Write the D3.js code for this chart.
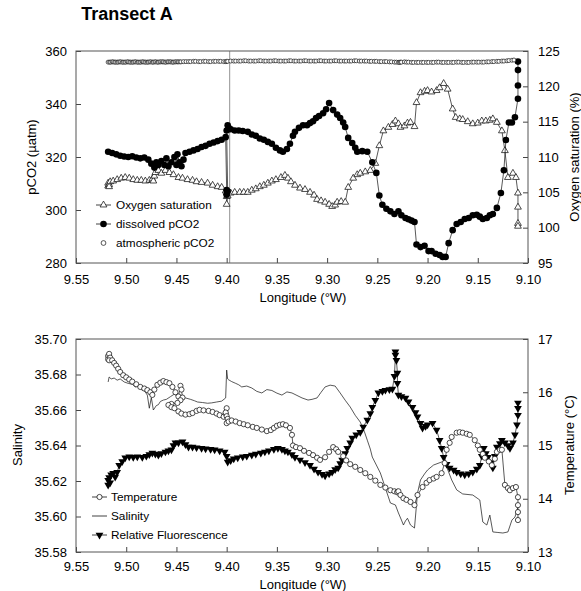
<!DOCTYPE html>
<html>
<head>
<meta charset="utf-8">
<script src="https://cdnjs.cloudflare.com/ajax/libs/d3/7.8.5/d3.min.js"></script>
<style>
body{margin:0;background:#fff;}
svg{font-family:Arial,"Liberation Sans",sans-serif;}
</style>
</head>
<body>
<svg id="chart" width="581" height="591"></svg>
<script>
// tick labels
const lonTicks = [9.55, 9.50, 9.45, 9.40, 9.35, 9.30, 9.25, 9.20, 9.15, 9.10];
const pco2Ticks = [280, 300, 320, 340, 360];
const o2Ticks = [95, 100, 105, 110, 115, 120, 125];
const salTicks = [35.58, 35.60, 35.62, 35.64, 35.66, 35.68, 35.70];
const tempTicks = [13, 14, 15, 16, 17];

// thin vertical line in top panel (longitude)
const markerLon = 9.397;

// top panel: [longitude °W, value]
const dissolvedPCO2 = [[9.518,322],[9.514,321.5],[9.510,321],[9.506,320.5],[9.502,320.2],[9.498,320],[9.494,320.3],[9.490,319.8],[9.486,319.5],[9.482,319.8],[9.478,319],[9.475,317.5],[9.472,316],[9.470,318],[9.468,317],[9.465,318.5],[9.462,317],[9.460,319.5],[9.458,316.5],[9.455,318],[9.452,320],[9.450,317],[9.449,321],[9.447,318],[9.445,316.5],[9.443,319],[9.441,321.5],[9.437,322],[9.433,322.5],[9.429,323],[9.425,323.8],[9.421,324.2],[9.417,325],[9.413,325.5],[9.409,326],[9.405,326.5],[9.401,327.5],[9.400,307.5],[9.400,305.8],[9.399,307],[9.400,330],[9.399,332],[9.398,331],[9.396,330.5],[9.392,330],[9.388,330],[9.384,329.8],[9.379,329.5],[9.375,328.5],[9.371,328],[9.367,327],[9.363,326.5],[9.359,325.7],[9.355,325],[9.351,323.5],[9.347,322.5],[9.344,322],[9.340,323],[9.337,325],[9.334,328],[9.332,329.5],[9.328,331],[9.324,332],[9.320,332],[9.317,332.8],[9.314,333.5],[9.311,334.7],[9.308,335.5],[9.304,336.5],[9.301,338],[9.298,340.4],[9.294,337.7],[9.290,336],[9.287,334.7],[9.284,333],[9.282,331.3],[9.279,327.2],[9.275,325.3],[9.272,323.5],[9.270,322],[9.265,322.2],[9.260,322],[9.255,318],[9.251,314],[9.248,305.5],[9.245,302],[9.241,300.5],[9.237,299.5],[9.233,298.5],[9.229,299.5],[9.226,298],[9.222,297],[9.219,296.5],[9.216,296],[9.213,295.5],[9.211,287],[9.207,286],[9.203,286.5],[9.199,284.5],[9.196,284.5],[9.192,283.5],[9.188,283],[9.185,282.3],[9.182,282.3],[9.179,287.5],[9.175,292.4],[9.171,294.7],[9.167,295.5],[9.163,296.6],[9.159,297],[9.155,298],[9.151,298.2],[9.148,297.5],[9.145,296.6],[9.141,297],[9.138,298],[9.135,298.5],[9.131,300.8],[9.127,306.4],[9.124,315],[9.122,326.4],[9.119,333],[9.116,333],[9.113,335],[9.110,342],[9.110,347],[9.110,352.8],[9.110,356]];

const oxygenSat = [[9.518,106.3],[9.518,105.9],[9.517,106.1],[9.517,105.8],[9.516,106.5],[9.513,106.6],[9.509,106.8],[9.505,107],[9.501,107.1],[9.497,107],[9.493,106.8],[9.489,106.7],[9.485,106.7],[9.481,106.6],[9.477,106.7],[9.474,106.7],[9.474,106.9],[9.473,106.6],[9.472,107.3],[9.471,107.8],[9.468,108.1],[9.465,107.7],[9.461,108.1],[9.457,107.8],[9.453,107.5],[9.448,107.1],[9.444,107],[9.439,106.8],[9.434,106.7],[9.430,106.5],[9.425,106.4],[9.419,106.3],[9.414,106],[9.409,105.8],[9.405,105.7],[9.401,105.2],[9.400,104.9],[9.400,104.4],[9.400,103.3],[9.399,104.5],[9.396,104.9],[9.392,105],[9.387,105],[9.383,105],[9.379,105],[9.375,105.3],[9.371,105.5],[9.367,105.8],[9.363,106],[9.359,106.3],[9.355,106.6],[9.351,106.8],[9.346,107.1],[9.342,107.4],[9.339,107],[9.336,106.5],[9.332,106],[9.327,105.6],[9.322,105.4],[9.317,105],[9.313,104.6],[9.310,104],[9.306,103.8],[9.302,103.6],[9.298,103.3],[9.295,103],[9.292,103.2],[9.290,103.6],[9.286,103.7],[9.282,103.6],[9.279,105.7],[9.274,107],[9.270,107.5],[9.267,107.7],[9.262,107.9],[9.257,108.1],[9.252,109.1],[9.248,111.6],[9.244,113.7],[9.239,114.2],[9.235,114.6],[9.232,115.1],[9.229,114.7],[9.227,114.2],[9.223,114.4],[9.220,114.8],[9.217,114.9],[9.213,114.3],[9.211,117.7],[9.207,119.1],[9.203,119.3],[9.200,119.4],[9.196,119.2],[9.191,119.4],[9.188,119.8],[9.184,120.4],[9.180,119.6],[9.175,116.8],[9.172,115.6],[9.168,115.4],[9.165,115.3],[9.160,115],[9.155,114.7],[9.150,114.8],[9.146,115.1],[9.142,115.1],[9.138,115.2],[9.135,115.4],[9.131,114.9],[9.126,113.7],[9.123,110.9],[9.120,107.1],[9.115,107.7],[9.112,107.1],[9.110,104.9],[9.110,102.9],[9.110,100.6],[9.110,100.2]];

const atmosPCO2 = [[9.518,355.8],[9.5165,355.8],[9.5155,355.8],[9.514,355.9],[9.513,355.9],[9.5115,355.8],[9.5105,355.8],[9.509,355.8],[9.508,355.8],[9.5065,355.9],[9.5055,355.9],[9.504,355.8],[9.503,355.8],[9.5015,355.8],[9.5005,355.8],[9.499,355.9],[9.498,355.9],[9.4965,355.8],[9.4955,355.8],[9.494,355.8],[9.493,355.8],[9.4915,355.9],[9.4905,355.9],[9.489,355.8],[9.488,355.8],[9.4865,355.8],[9.4855,355.8],[9.484,355.9],[9.483,355.9],[9.4815,355.8],[9.4805,355.8],[9.479,355.8],[9.478,355.8],[9.4765,355.9],[9.4755,355.9],[9.474,355.8],[9.473,355.8],[9.4715,355.9],[9.4705,355.9],[9.469,355.8],[9.468,355.8],[9.4665,355.9],[9.4655,355.9],[9.464,355.9],[9.463,355.9],[9.4615,355.8],[9.4605,355.8],[9.459,355.9],[9.458,355.9],[9.4565,355.9],[9.4555,355.9],[9.454,355.8],[9.453,355.8],[9.4515,355.9],[9.4505,355.9],[9.449,355.9],[9.448,355.9],[9.4465,355.9],[9.4455,355.9],[9.443,356],[9.4405,356],[9.438,356],[9.436,356],[9.433,356.1],[9.431,356.1],[9.428,356],[9.426,356],[9.423,356.1],[9.421,356.1],[9.418,356],[9.416,356],[9.413,356.1],[9.411,356.1],[9.408,356.1],[9.406,356.1],[9.403,356],[9.401,356],[9.400,356.1],[9.399,356.1],[9.396,356.2],[9.393,356.2],[9.391,356.2],[9.388,356.2],[9.386,356.2],[9.383,356.3],[9.381,356.3],[9.378,356.2],[9.376,356.2],[9.373,356.2],[9.371,356.2],[9.368,356.3],[9.366,356.3],[9.363,356.2],[9.361,356.2],[9.358,356.2],[9.356,356.2],[9.353,356.3],[9.351,356.3],[9.348,356.2],[9.346,356.2],[9.343,356.2],[9.341,356.2],[9.338,356.3],[9.336,356.3],[9.333,356.2],[9.331,356.2],[9.328,356.2],[9.326,356.2],[9.323,356.3],[9.321,356.3],[9.318,356.2],[9.316,356.2],[9.313,356.2],[9.311,356.2],[9.308,356.3],[9.306,356.3],[9.303,356.2],[9.301,356.2],[9.298,356.2],[9.296,356.2],[9.293,356.3],[9.291,356.3],[9.288,356.2],[9.286,356.2],[9.283,356.2],[9.281,356.2],[9.278,356.2],[9.276,356.2],[9.273,356.3],[9.271,356.3],[9.268,356.2],[9.266,356.2],[9.263,356.2],[9.261,356.2],[9.258,356.1],[9.256,356.1],[9.253,356.1],[9.251,356.1],[9.248,356],[9.246,356],[9.243,356],[9.241,356],[9.238,355.9],[9.236,355.9],[9.233,355.8],[9.231,355.8],[9.229,355.7],[9.228,355.7],[9.227,355.8],[9.226,355.8],[9.223,355.9],[9.221,355.8],[9.219,355.8],[9.216,355.7],[9.214,355.7],[9.211,355.7],[9.209,355.7],[9.206,355.7],[9.204,355.7],[9.201,355.7],[9.199,355.7],[9.196,355.7],[9.194,355.7],[9.191,355.8],[9.189,355.8],[9.186,355.7],[9.184,355.7],[9.181,355.7],[9.179,355.7],[9.176,355.7],[9.174,355.7],[9.171,355.8],[9.169,355.8],[9.166,355.7],[9.164,355.7],[9.161,355.7],[9.159,355.7],[9.156,355.8],[9.154,355.8],[9.151,355.8],[9.149,355.8],[9.146,355.8],[9.144,355.8],[9.141,355.9],[9.139,355.9],[9.136,356],[9.134,356],[9.131,356.1],[9.129,356.1],[9.126,356.2],[9.124,356.2],[9.121,356.3],[9.119,356.4],[9.116,356.5],[9.114,356.6]];

// bottom panel
const temperature = [[9.518,16.68],[9.518,16.62],[9.517,16.72],[9.516,16.65],[9.517,16.6],[9.514,16.6],[9.512,16.55],[9.510,16.5],[9.508,16.44],[9.506,16.38],[9.503,16.32],[9.500,16.28],[9.497,16.24],[9.494,16.2],[9.490,16.15],[9.486,16.1],[9.482,16.07],[9.479,16.04],[9.476,16.0],[9.474,15.95],[9.472,16.05],[9.469,16.14],[9.466,16.18],[9.463,16.21],[9.460,16.19],[9.457,16.17],[9.454,16.1],[9.451,16.0],[9.448,15.92],[9.446,16.12],[9.445,16.05],[9.444,15.9],[9.446,15.85],[9.449,15.8],[9.455,15.78],[9.458,15.76],[9.455,15.72],[9.452,15.7],[9.448,15.64],[9.445,15.6],[9.441,15.58],[9.437,15.59],[9.434,15.61],[9.430,15.65],[9.427,15.67],[9.423,15.66],[9.418,15.65],[9.414,15.63],[9.410,15.6],[9.407,15.57],[9.403,15.54],[9.401,15.6],[9.400,15.7],[9.401,15.62],[9.400,15.55],[9.399,15.5],[9.400,15.42],[9.398,15.45],[9.395,15.47],[9.391,15.45],[9.387,15.42],[9.383,15.4],[9.379,15.38],[9.374,15.35],[9.370,15.33],[9.365,15.3],[9.360,15.27],[9.356,15.29],[9.353,15.33],[9.350,15.37],[9.347,15.39],[9.344,15.4],[9.341,15.38],[9.337,15.33],[9.335,15.2],[9.334,15.0],[9.331,14.97],[9.327,14.95],[9.323,14.9],[9.318,14.86],[9.314,14.82],[9.310,14.77],[9.307,14.73],[9.302,14.78],[9.298,14.88],[9.294,14.97],[9.291,14.93],[9.289,14.88],[9.284,14.8],[9.281,14.72],[9.277,14.65],[9.272,14.6],[9.267,14.54],[9.262,14.48],[9.257,14.41],[9.252,14.34],[9.247,14.26],[9.242,14.21],[9.237,14.16],[9.233,14.14],[9.230,14.13],[9.230,14.12],[9.229,14.14],[9.227,14.07],[9.224,14.01],[9.221,13.98],[9.217,13.94],[9.213,13.88],[9.210,14.07],[9.205,14.22],[9.201,14.3],[9.198,14.35],[9.194,14.38],[9.191,14.41],[9.186,14.48],[9.183,14.67],[9.181,14.92],[9.178,15.05],[9.176,15.16],[9.171,15.24],[9.168,15.25],[9.165,15.24],[9.161,15.22],[9.158,15.2],[9.153,15.1],[9.150,15.0],[9.148,14.92],[9.145,14.84],[9.143,14.77],[9.139,14.7],[9.136,14.63],[9.133,14.75],[9.131,14.88],[9.128,14.92],[9.126,14.92],[9.123,14.26],[9.120,14.2],[9.118,14.16],[9.115,14.2],[9.112,14.22],[9.110,14.03],[9.110,13.88],[9.110,13.75],[9.110,13.6]];

// relative fluorescence, drawn against the right axis
const fluorescence = [[9.518,14.26],[9.518,14.35],[9.517,14.4],[9.516,14.3],[9.515,14.45],[9.513,14.48],[9.511,14.41],[9.509,14.5],[9.507,14.63],[9.504,14.7],[9.501,14.77],[9.497,14.79],[9.493,14.78],[9.489,14.79],[9.484,14.78],[9.480,14.8],[9.477,14.83],[9.474,14.86],[9.471,14.84],[9.468,14.82],[9.465,14.85],[9.461,14.88],[9.458,14.9],[9.455,14.92],[9.453,15.0],[9.451,15.05],[9.448,15.05],[9.444,15.07],[9.441,15.02],[9.438,14.97],[9.434,14.97],[9.430,14.96],[9.425,14.95],[9.421,14.94],[9.416,14.93],[9.412,14.92],[9.407,14.9],[9.402,14.88],[9.400,14.8],[9.399,14.69],[9.396,14.72],[9.393,14.75],[9.389,14.77],[9.384,14.79],[9.380,14.8],[9.375,14.82],[9.371,14.84],[9.366,14.86],[9.362,14.88],[9.358,14.9],[9.353,14.93],[9.349,14.95],[9.345,14.93],[9.342,14.9],[9.339,14.88],[9.335,14.83],[9.332,14.78],[9.327,14.73],[9.322,14.68],[9.317,14.63],[9.313,14.56],[9.309,14.5],[9.305,14.46],[9.302,14.43],[9.298,14.47],[9.295,14.5],[9.292,14.55],[9.289,14.58],[9.287,14.66],[9.285,14.73],[9.282,14.85],[9.280,14.95],[9.277,15.05],[9.275,15.14],[9.271,15.2],[9.267,15.25],[9.264,15.35],[9.260,15.48],[9.257,15.6],[9.255,15.72],[9.252,15.85],[9.249,15.99],[9.245,16.02],[9.242,16.04],[9.238,16.05],[9.235,16.06],[9.233,16.3],[9.232,16.7],[9.232,16.76],[9.231,16.6],[9.230,16.36],[9.230,16.17],[9.229,15.95],[9.226,15.92],[9.222,15.89],[9.219,15.82],[9.215,15.72],[9.212,15.62],[9.210,15.54],[9.207,15.42],[9.205,15.33],[9.202,15.36],[9.200,15.39],[9.195,15.42],[9.191,15.29],[9.188,15.1],[9.186,14.95],[9.184,14.78],[9.181,14.65],[9.178,14.58],[9.174,14.54],[9.171,14.5],[9.167,14.47],[9.163,14.45],[9.159,14.47],[9.155,14.5],[9.151,14.56],[9.148,14.63],[9.146,14.8],[9.144,14.95],[9.142,14.85],[9.140,14.78],[9.137,14.68],[9.135,14.58],[9.133,14.8],[9.131,14.97],[9.128,15.04],[9.126,15.1],[9.123,15.05],[9.120,15.0],[9.118,14.95],[9.115,15.05],[9.113,15.2],[9.111,15.39],[9.110,15.57],[9.110,15.7],[9.110,15.8]];

const salinity = [[9.518,35.6758],[9.517,35.6786],[9.515,35.6775],[9.512,35.678],[9.509,35.6768],[9.506,35.6775],[9.502,35.6758],[9.498,35.675],[9.494,35.6745],[9.491,35.673],[9.488,35.6735],[9.485,35.6715],[9.482,35.671],[9.479,35.6684],[9.477,35.661],[9.475,35.667],[9.473,35.660],[9.470,35.6625],[9.468,35.663],[9.466,35.6648],[9.463,35.6656],[9.460,35.666],[9.456,35.6675],[9.452,35.669],[9.448,35.6672],[9.445,35.668],[9.441,35.6668],[9.436,35.666],[9.432,35.6652],[9.429,35.6645],[9.424,35.6642],[9.419,35.6638],[9.415,35.664],[9.410,35.6645],[9.405,35.665],[9.401,35.6668],[9.400,35.6825],[9.399,35.6775],[9.398,35.677],[9.395,35.676],[9.391,35.675],[9.388,35.6742],[9.385,35.673],[9.380,35.6735],[9.375,35.6724],[9.370,35.6705],[9.365,35.6696],[9.360,35.6715],[9.355,35.671],[9.350,35.6695],[9.345,35.6684],[9.340,35.6702],[9.335,35.6696],[9.330,35.6682],[9.325,35.6668],[9.319,35.6656],[9.315,35.666],[9.310,35.6668],[9.306,35.670],[9.302,35.673],[9.297,35.674],[9.292,35.6735],[9.287,35.6696],[9.282,35.6655],[9.277,35.6617],[9.272,35.657],[9.267,35.6532],[9.263,35.648],[9.260,35.643],[9.257,35.638],[9.255,35.6335],[9.251,35.629],[9.247,35.6245],[9.244,35.6195],[9.242,35.616],[9.239,35.611],[9.237,35.6076],[9.232,35.6065],[9.229,35.602],[9.226,35.598],[9.224,35.5952],[9.222,35.5975],[9.220,35.599],[9.217,35.5952],[9.213,35.5935],[9.210,35.6132],[9.207,35.6206],[9.203,35.624],[9.200,35.6262],[9.194,35.629],[9.186,35.6307],[9.181,35.628],[9.176,35.6206],[9.171,35.615],[9.165,35.6127],[9.155,35.6121],[9.148,35.6093],[9.145,35.5969],[9.141,35.5952],[9.138,35.6008],[9.135,35.5913],[9.130,35.591],[9.125,35.5907],[9.120,35.5913],[9.116,35.598],[9.113,35.5997],[9.110,35.6054]];

const topLegend = ['Oxygen saturation', 'dissolved pCO2', 'atmospheric pCO2'];
const bottomLegend = ['Temperature', 'Salinity', 'Relative Fluorescence'];

const svg = d3.select('#chart');
const L = 76, R = 528;
const x = d3.scaleLinear().domain([9.55, 9.10]).range([L, R]);

const triUp = d3.symbol().type(d3.symbolTriangle).size(20);
const triDown = d3.symbol().type(d3.symbolTriangle).size(26);

// draw frame + axes for one panel
function panel(top, bottom, yl, yr, lTicks, rTicks, lFmt, rFmt, xPad) {
	let g = svg.append('g');
	g.append('g').attr('transform', `translate(0,${bottom})`)
		.call(d3.axisBottom(x).tickValues(lonTicks).tickFormat(d3.format('.2f'))
			.tickSizeInner(-5).tickSizeOuter(0).tickPadding(xPad));
	g.append('g').attr('transform', `translate(${L},0)`)
		.call(d3.axisLeft(yl).tickValues(lTicks).tickFormat(lFmt)
			.tickSizeInner(-5).tickSizeOuter(0).tickPadding(9));
	g.append('g').attr('transform', `translate(${R},0)`)
		.call(d3.axisRight(yr).tickValues(rTicks).tickFormat(rFmt)
			.tickSizeInner(-5).tickSizeOuter(0).tickPadding(10));
	g.selectAll('.domain').remove();
	g.selectAll('.tick text').attr('font-size', 13).attr('fill', '#000')
		.style('font-family', 'Arial, "Liberation Sans", sans-serif');
	g.selectAll('.tick line').attr('stroke', '#444');
	g.append('rect').attr('x', L).attr('y', top).attr('width', R - L).attr('height', bottom - top)
		.attr('fill', 'none').attr('stroke', '#555').attr('stroke-width', 1);
	return g;
}

function label(txt, cx, cy, rot, size, weight) {
	svg.append('text').attr('transform', `translate(${cx},${cy}) rotate(${rot || 0})`)
		.attr('text-anchor', 'middle').attr('dominant-baseline', 'central')
		.attr('font-size', size || 13).attr('font-weight', weight || 'normal').text(txt);
}

/* ---------------- top panel ---------------- */
const yCO2 = d3.scaleLinear().domain([280, 360]).range([263, 51]);
const yO2 = d3.scaleLinear().domain([95, 125]).range([263, 51]);
panel(51, 263, yCO2, yO2, pco2Ticks, o2Ticks, d3.format('d'), d3.format('d'), 12);

svg.append('line').attr('x1', x(markerLon)).attr('x2', x(markerLon))
	.attr('y1', 51).attr('y2', 263).attr('stroke', '#666').attr('stroke-width', 0.7);

let lineT = d3.line().x(d => x(d[0])).y(d => yO2(d[1]));
svg.append('path').datum(oxygenSat).attr('d', lineT)
	.attr('fill', 'none').attr('stroke', '#111').attr('stroke-width', 0.7);
svg.append('g').selectAll('path').data(oxygenSat).enter().append('path')
	.attr('d', triUp).attr('transform', d => `translate(${x(d[0])},${yO2(d[1])})`)
	.attr('fill', '#fff').attr('stroke', '#111').attr('stroke-width', 0.75);

let lineC = d3.line().x(d => x(d[0])).y(d => yCO2(d[1]));
svg.append('path').datum(dissolvedPCO2).attr('d', lineC)
	.attr('fill', 'none').attr('stroke', '#111').attr('stroke-width', 0.7);
svg.append('g').selectAll('circle').data(dissolvedPCO2).enter().append('circle')
	.attr('cx', d => x(d[0])).attr('cy', d => yCO2(d[1])).attr('r', 3.3).attr('fill', '#000');

svg.append('g').selectAll('circle').data(atmosPCO2).enter().append('circle')
	.attr('cx', d => x(d[0])).attr('cy', d => yCO2(d[1])).attr('r', 2)
	.attr('fill', '#fff').attr('stroke', '#111').attr('stroke-width', 0.7);

label('Transect A', 127, 14, 0, 18, 'bold');
label('pCO2 (\u00b5atm)', 31, 157, -90, 13);
label('Oxygen saturation (%)', 574, 157, -90, 13);
label('Longitude (\u00b0W)', 303, 297, 0, 13);

// top legend
let tl = svg.append('g').attr('font-size', 11.8);
topLegend.forEach((t, i) => {
	let cy = 205 + i * 19;
	if (i < 2) tl.append('line').attr('x1', 96).attr('x2', 111).attr('y1', cy).attr('y2', cy).attr('stroke', '#111').attr('stroke-width', 0.8);
	if (i == 0) tl.append('path').attr('d', triUp).attr('transform', `translate(103.5,${cy})`).attr('fill', '#fff').attr('stroke', '#111').attr('stroke-width', 0.75);
	if (i == 1) tl.append('circle').attr('cx', 103.5).attr('cy', cy).attr('r', 3.3).attr('fill', '#000');
	if (i == 2) tl.append('circle').attr('cx', 103.5).attr('cy', cy).attr('r', 2.4).attr('fill', '#fff').attr('stroke', '#111').attr('stroke-width', 0.7);
	tl.append('text').attr('x', 116).attr('y', cy).attr('dominant-baseline', 'central').text(t);
});

/* ---------------- bottom panel ---------------- */
const ySal = d3.scaleLinear().domain([35.58, 35.70]).range([552, 339]);
const yTemp = d3.scaleLinear().domain([13, 17]).range([552, 339]);
panel(339, 552, ySal, yTemp, salTicks, tempTicks, d3.format('.2f'), d3.format('d'), 10);

let lineS = d3.line().x(d => x(d[0])).y(d => ySal(d[1]));
svg.append('path').datum(salinity).attr('d', lineS)
	.attr('fill', 'none').attr('stroke', '#111').attr('stroke-width', 0.7);

let lineTe = d3.line().x(d => x(d[0])).y(d => yTemp(d[1]));
svg.append('path').datum(fluorescence).attr('d', lineTe)
	.attr('fill', 'none').attr('stroke', '#111').attr('stroke-width', 0.7);
svg.append('g').selectAll('path').data(fluorescence).enter().append('path')
	.attr('d', triDown).attr('transform', d => `translate(${x(d[0])},${yTemp(d[1])}) rotate(180)`)
	.attr('fill', '#000');

svg.append('path').datum(temperature).attr('d', lineTe)
	.attr('fill', 'none').attr('stroke', '#111').attr('stroke-width', 0.7);
svg.append('g').selectAll('circle').data(temperature).enter().append('circle')
	.attr('cx', d => x(d[0])).attr('cy', d => yTemp(d[1])).attr('r', 2.6)
	.attr('fill', '#fff').attr('stroke', '#111').attr('stroke-width', 0.75);

label('Salinity', 17, 445, -90, 13);
label('Temperature (\u00b0C)', 569, 445, -90, 13);
label('Longitude (\u00b0W)', 303, 584, 0, 13);

// bottom legend
let bl = svg.append('g').attr('font-size', 11.8);
bottomLegend.forEach((t, i) => {
	let cy = 497 + i * 19;
	bl.append('line').attr('x1', 92).attr('x2', 107).attr('y1', cy).attr('y2', cy).attr('stroke', '#111').attr('stroke-width', 0.8);
	if (i == 0) bl.append('circle').attr('cx', 99.5).attr('cy', cy).attr('r', 2.6).attr('fill', '#fff').attr('stroke', '#111').attr('stroke-width', 0.75);
	if (i == 2) bl.append('path').attr('d', triDown).attr('transform', `translate(99.5,${cy}) rotate(180)`).attr('fill', '#000');
	bl.append('text').attr('x', 111).attr('y', cy).attr('dominant-baseline', 'central').text(t);
});
</script>
</body>
</html>
